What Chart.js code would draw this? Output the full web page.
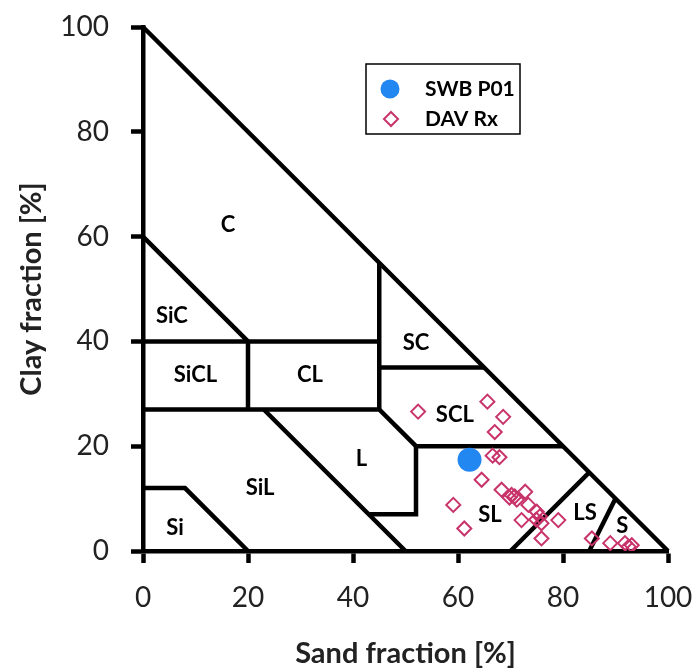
<!DOCTYPE html>
<html>
<head>
<meta charset="utf-8">
<title>Soil texture</title>
<script src="https://cdn.jsdelivr.net/npm/chart.js@4"></script>
<style>
  html, body { margin: 0; padding: 0; background: #fff; }
  canvas { display: block; }
</style>
</head>
<body>
<canvas id="texture" width="700" height="668"></canvas>
<script>
const TICKS = [0, 20, 40, 60, 80, 100];

// Samples, sand and clay in %
const swbSand = [62.2];
const swbClay = [17.4];

const davSand = [52.4, 65.6, 68.6, 67.0, 66.6, 67.9, 64.5, 59.1, 61.2, 68.3,
                 70.2, 71.2, 69.8, 70.8, 72.8, 73.4, 72.1, 75.0, 75.6, 75.9,
                 74.9, 79.1, 75.9, 85.5, 89.0, 91.8, 93.1, 92.5];
const davClay = [26.6, 28.5, 25.6, 22.7, 18.2, 17.9, 13.6, 8.8, 4.3, 11.7,
                 10.7, 9.8, 10.2, 10.4, 11.3, 8.8, 5.9, 7.5, 6.6, 5.3,
                 6.0, 5.9, 2.4, 2.4, 1.5, 1.5, 1.1, 0.8];

// USDA class boundaries as polylines of [sand, clay]
const BOUNDARIES = [
  [[0, 100], [100, 0]],
  [[0, 60], [20, 40]],
  [[0, 40], [45, 40]],
  [[45, 55], [45, 27]],
  [[20, 40], [20, 27]],
  [[0, 27], [45, 27], [52, 20], [80, 20]],
  [[45, 35], [65, 35]],
  [[23, 27], [50, 0]],
  [[43, 7], [52, 7], [52, 20]],
  [[0, 12], [8, 12], [20, 0]],
  [[70, 0], [85, 15]],
  [[85, 0], [90, 10]],
];

const CLASS_NAMES = ["C", "SiC", "SiCL", "CL", "SC", "SCL", "L", "SiL", "Si", "SL", "LS", "S"];
const CLASS_SAND  = [16.2, 5.5, 10.0, 31.8, 52.0, 59.4, 41.6, 22.3, 6.1, 66.1, 84.2, 91.3];
const CLASS_CLAY  = [62.3, 44.8, 33.7, 33.7, 39.8, 26.0, 17.5, 12.0, 4.4, 6.9, 7.3, 4.8];

const FONT = "Lato, 'Open Sans', sans-serif";
const BLUE = "#2387f2";
const PINK = "#c8336a";

const toXY = (xs, ys) => xs.map((x, i) => ({ x, y: ys[i] }));

const classLabels = {
  id: "classLabels",
  beforeDatasetsDraw(chart) {
    const { ctx, scales: { x, y } } = chart;
    ctx.save();
    ctx.font = `bold 22px ${FONT}`;
    ctx.fillStyle = "#000";
    ctx.textAlign = "center";
    ctx.textBaseline = "middle";
    CLASS_NAMES.forEach((name, i) => {
      ctx.fillText(name, x.getPixelForValue(CLASS_SAND[i]), y.getPixelForValue(CLASS_CLAY[i]));
    });
    ctx.restore();
  },
};

// boxed legend in the empty top-right corner
const boxLegend = {
  id: "boxLegend",
  afterDraw(chart) {
    const { ctx } = chart;
    const left = 366, top = 64, w = 154, h = 70;
    ctx.save();
    ctx.fillStyle = "#fff";
    ctx.fillRect(left, top, w, h);
    ctx.strokeStyle = "#000";
    ctx.lineWidth = 1.5;
    ctx.strokeRect(left, top, w, h);

    ctx.beginPath();
    ctx.arc(390, 89, 9.5, 0, Math.PI * 2);
    ctx.fillStyle = BLUE;
    ctx.fill();

    ctx.beginPath();
    ctx.moveTo(391, 112);
    ctx.lineTo(398, 119);
    ctx.lineTo(391, 126);
    ctx.lineTo(384, 119);
    ctx.closePath();
    ctx.strokeStyle = PINK;
    ctx.lineWidth = 2;
    ctx.stroke();

    ctx.font = `bold 21px ${FONT}`;
    ctx.fillStyle = "#000";
    ctx.textBaseline = "middle";
    ctx.fillText("SWB P01", 425, 89);
    ctx.fillText("DAV Rx", 425, 119);
    ctx.restore();
  },
};

const lineSets = BOUNDARIES.map((pts) => ({
  data: pts.map(([x, y]) => ({ x, y })),
  showLine: true,
  borderColor: "#000",
  borderWidth: 4.5,
  pointRadius: 0,
  clip: false,
}));

function axis(titleText, titlePad) {
  return {
    type: "linear",
    min: 0,
    max: 100,
    afterBuildTicks: (s) => { s.ticks = TICKS.map((v) => ({ value: v })); },
    border: { display: true, color: "#000", width: 4.5 },
    grid: { drawOnChartArea: false, drawTicks: true, tickLength: 12, tickWidth: 4.5, tickColor: "#000" },
    ticks: { color: "#222", font: { family: FONT, size: 28 }, padding: 18 },
    title: {
      display: true,
      text: titleText,
      color: "#222",
      font: { family: FONT, size: 29, weight: "bold", lineHeight: 1 },
      padding: titlePad,
    },
  };
}

// fixed axis boxes; the end labels are allowed to overhang the plot
const xAxis = axis("Sand fraction [%]", { top: 0, bottom: 0 });
xAxis.afterFit = (s) => { s.height = 117; s.paddingLeft = 0; s.paddingRight = 0; };
const yAxis = axis("Clay fraction [%]", { top: 17, bottom: 0 });
yAxis.afterFit = (s) => { s.width = 143; s.paddingTop = 0; s.paddingBottom = 0; };
yAxis.ticks.padding = 22;

new Chart(document.getElementById("texture"), {
  type: "scatter",
  data: {
    datasets: [
      {
        label: "SWB P01",
        data: toXY(swbSand, swbClay),
        pointStyle: "circle",
        pointRadius: 12,
        backgroundColor: BLUE,
        borderColor: BLUE,
        borderWidth: 0,
      },
      {
        label: "DAV Rx",
        data: toXY(davSand, davClay),
        pointStyle: "rectRot",
        pointRadius: 7,
        backgroundColor: "rgba(0,0,0,0)",
        borderColor: PINK,
        borderWidth: 2,
      },
      ...lineSets,
    ],
  },
  options: {
    responsive: false,
    animation: false,
    layout: { padding: { top: 27, right: 32, left: 0, bottom: 0 } },
    scales: { x: xAxis, y: yAxis },
    plugins: { legend: { display: false }, tooltip: { enabled: false } },
  },
  plugins: [classLabels, boxLegend],
});
</script>
</body>
</html>
